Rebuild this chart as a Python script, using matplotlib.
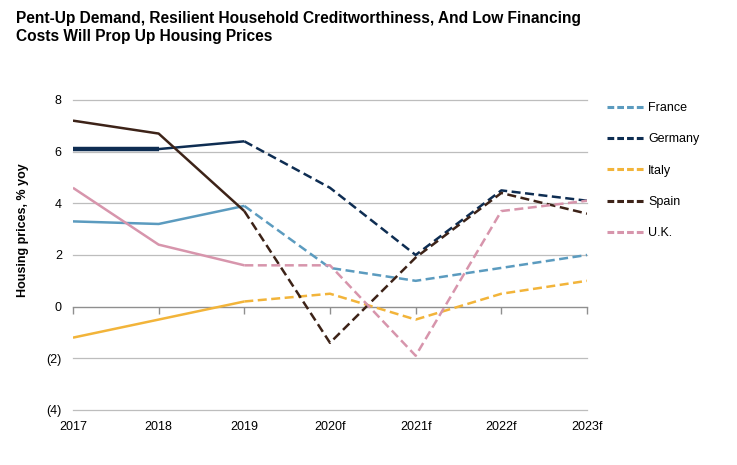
import matplotlib
matplotlib.use("Agg")
import matplotlib.pyplot as plt
from matplotlib.lines import Line2D
from matplotlib.ticker import FuncFormatter
import matplotlib.transforms as mtransforms

plt.rcParams['font.family'] = ['Liberation Sans', 'DejaVu Sans']

categories = ["2017", "2018", "2019", "2020f", "2021f", "2022f", "2023f"]
france = [3.3, 3.2, 3.9, 1.5, 1.0, 1.5, 2.0]
germany = [6.1, 6.1, 6.4, 4.6, 2.0, 4.5, 4.1]
italy = [-1.2, -0.5, 0.2, 0.5, -0.5, 0.5, 1.0]
spain = [7.2, 6.7, 3.7, -1.4, 1.9, 4.4, 3.6]
uk = [4.6, 2.4, 1.6, 1.6, -1.9, 3.7, 4.1]
series_names = ["France", "Germany", "Italy", "Spain", "U.K."]
series_values = [france, germany, italy, spain, uk]
colors = ["#5B9BBF", "#0E2D52", "#F2B43A", "#3D2318", "#D795AC"]
y_ticks = [-4, -2, 0, 2, 4, 6, 8]
actual_end = 2  # index of last actual (non-forecast) year

fig = plt.figure(figsize=(7.37, 4.65), dpi=100)
ax = fig.add_axes([0.099, 0.1183, 0.6975, 0.6667])

x = list(range(len(categories)))
lw = 1.8
for name, vals, c in zip(series_names, series_values, colors):
    ax.plot(x[:actual_end + 1], vals[:actual_end + 1], color=c, lw=lw,
            solid_capstyle='butt', zorder=3)
    ax.plot(x[actual_end:], vals[actual_end:], color=c, lw=lw,
            linestyle=(0, (3.6, 1.8)), dash_capstyle='butt', zorder=3)
# Germany's first segment drawn heavier in the reference
ax.plot(x[:2], germany[:2], color=colors[1], lw=3.2, solid_capstyle='butt', zorder=4)

ax.set_xlim(0, len(categories) - 1)
ax.set_ylim(-4, 8)
ax.set_yticks(y_ticks)
ax.yaxis.set_major_formatter(FuncFormatter(lambda v, p: f"({abs(int(v))})" if v < 0 else f"{int(v)}"))
ax.tick_params(axis='y', length=0, labelsize=9, pad=8, labelcolor='#000000')
for yt in y_ticks:
    if yt != 0:
        ax.axhline(yt, color='#BDBDBD', lw=0.9, zorder=1, clip_on=False)

for s in ['top', 'right', 'left']:
    ax.spines[s].set_visible(False)
ax.spines['bottom'].set_position(('data', 0))
ax.spines['bottom'].set_color('#8F8F8F')
ax.spines['bottom'].set_linewidth(1.0)
ax.set_xticks(x)
ax.set_xticklabels([])
ax.tick_params(axis='x', direction='out', length=5, color='#8F8F8F', width=1.0)

trans = mtransforms.blended_transform_factory(ax.transData, ax.transAxes)
for xi, lab in zip(x, categories):
    ax.text(xi, -0.035, lab, transform=trans, ha='center', va='top', fontsize=9)

ax.set_ylabel("Housing prices, % yoy", fontsize=9, fontweight='bold')
ax.yaxis.set_label_coords(-0.086, 0.58)

fig.text(0.022, 0.977, "Pent-Up Demand, Resilient Household Creditworthiness, And Low Financing\nCosts Will Prop Up Housing Prices",
         fontsize=11.2, fontweight='bold', ha='left', va='top', linespacing=1.3)

handles = [Line2D([0], [0], color=c, lw=2.2, linestyle=(0, (2.2, 1.0))) for c in colors]
leg = fig.legend(handles, series_names, loc='upper left', bbox_to_anchor=(0.808, 0.805),
                 frameon=False, fontsize=9, handlelength=3.0, handletextpad=0.3,
                 labelspacing=1.55)

fig.savefig("out.png", dpi=100)
